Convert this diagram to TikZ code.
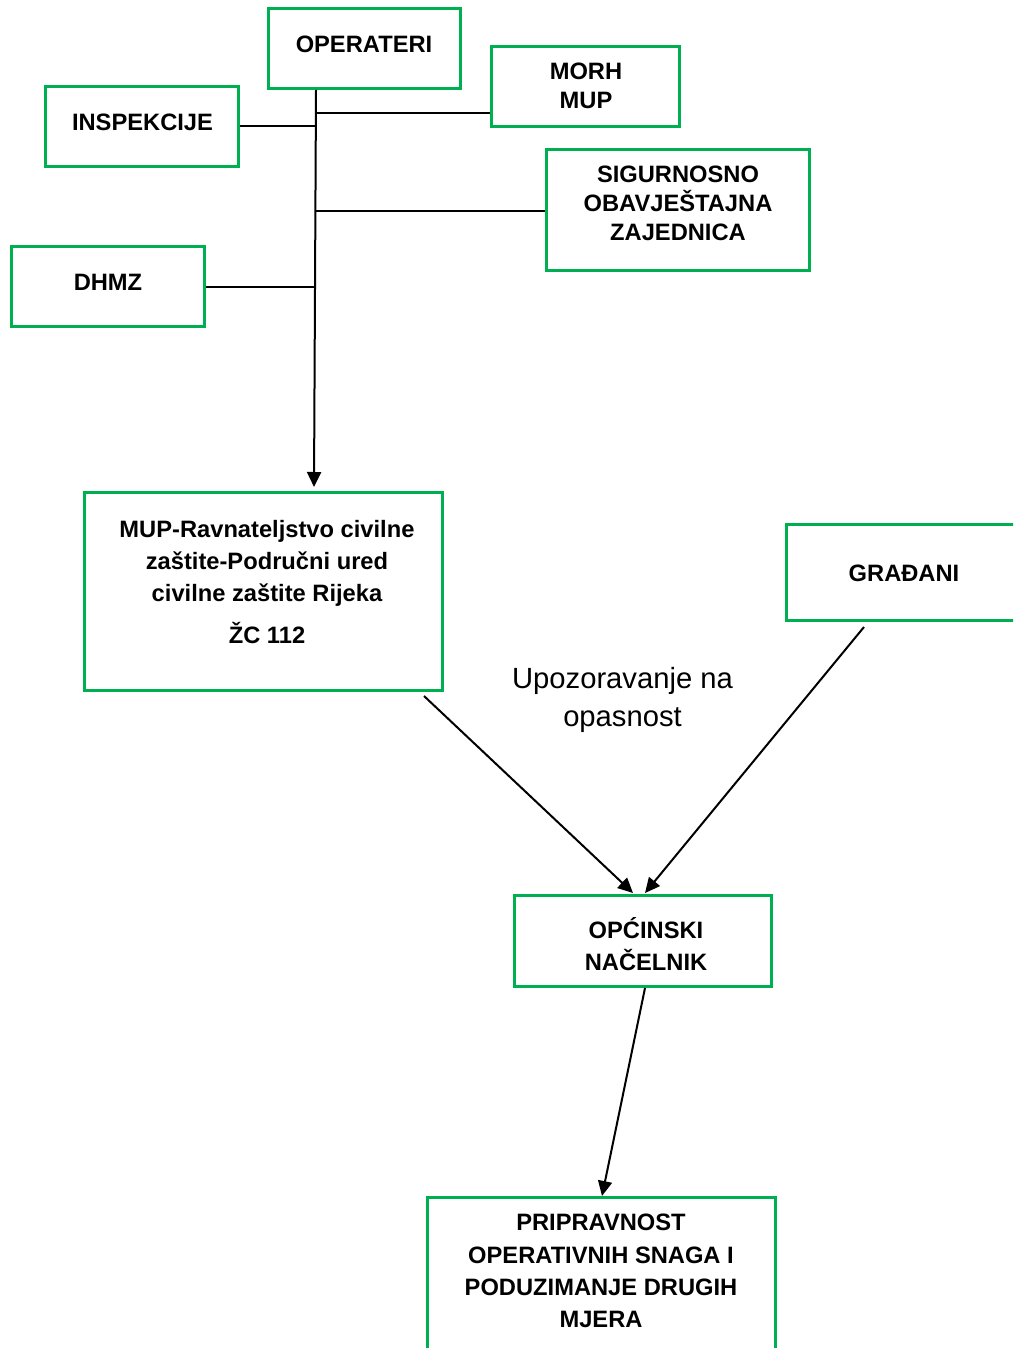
\documentclass[tikz,border=0pt]{standalone}
\usepackage{fontspec}
\setmainfont{Liberation Sans}
\usetikzlibrary{arrows.meta}
\definecolor{boxgreen}{RGB}{0,176,80}
\begin{document}
\begin{tikzpicture}[x=1pt,y=-1pt,
  box/.style={draw=boxgreen, line width=3.3pt, inner sep=0pt, rectangle},
  lbl/.style={font=\bfseries\fontsize{23.7}{29}\selectfont, align=center, inner sep=0pt},
  lblw/.style={font=\bfseries\fontsize{23.7}{32.3}\selectfont, align=center, inner sep=0pt},
  plain/.style={font=\fontsize{29.2}{38}\selectfont, align=center, inner sep=0pt},
  conn/.style={line width=2pt, black},
  arr/.style={conn, -{Triangle[length=15pt,width=14pt]}},
]
\useasboundingbox (0,0) rectangle (1013,1348);
\begin{scope}
\clip (0,0) rectangle (1013,1348);
% boxes
\node[box, minimum width=191.7pt, minimum height=79.7pt] (op) at (364.5,48.5) {};
\node[box, minimum width=192.7pt, minimum height=79.7pt] (insp) at (142,126.5) {};
\node[box, minimum width=187.7pt, minimum height=79.7pt] (morh) at (585.5,86.5) {};
\node[box, minimum width=262.7pt, minimum height=120.7pt] (sig) at (678,210) {};
\node[box, minimum width=192.7pt, minimum height=79.7pt] (dhmz) at (108,286.5) {};
\node[box, minimum width=357.7pt, minimum height=197.7pt] (mup) at (263.5,591.5) {};
\node[box, minimum width=234.7pt, minimum height=95.7pt] (grad) at (904,572.5) {};
\node[box, minimum width=256.7pt, minimum height=90.7pt] (opc) at (643,941) {};
\node[box, minimum width=347.7pt, minimum height=220.7pt] (prip) at (601.5,1308) {};
\end{scope}
% texts
\node[lbl] (opT) at (364,44.5) {OPERATERI};
\node[lbl] (inspT) at (142.5,122.5) {INSPEKCIJE};
\node[lbl] (morhT) at (586,85.5) {MORH\\MUP};
\node[lbl] (sigT) at (678,203.5) {SIGURNOSNO\\OBAVJEŠTAJNA\\ZAJEDNICA};
\node[lbl] (dhmzT) at (108,282) {DHMZ};
\node[lblw, anchor=north] (mupT) at (267,520) {MUP-Ravnateljstvo civilne\\zaštite-Područni ured\\civilne zaštite Rijeka\\[9pt]ŽC 112};
\node[lbl] (gradT) at (904,573.5) {GRAĐANI};
\node[lblw] (opcT) at (646,944) {OPĆINSKI\\NAČELNIK};
\node[lblw] (pripT) at (601,1271) {PRIPRAVNOST\\OPERATIVNIH SNAGA I\\PODUZIMANJE DRUGIH\\MJERA};
\node[plain] (warn) at (622.5,699.5) {Upozoravanje na\\opasnost};
% connectors
\coordinate (mupIn) at (314,487);
\draw[arr] (op.south -| 316,0) -- (mupIn);
\draw[conn] (insp.east) -- (316,126.5);
\draw[conn] (315.9,113) -- (morh.west |- 0,113);
\draw[conn] (315.7,210.7) -- (sig.west |- 0,210.7);
\draw[conn] (dhmz.east) -- (315.3,286.5);
\coordinate (mupOut) at (424,696);
\coordinate (opcInL) at (633,893);
\draw[arr] (mupOut) -- (opcInL);
\coordinate (gradOut) at (864,627);
\coordinate (opcInR) at (645,893);
\draw[arr] (gradOut) -- (opcInR);
\coordinate (opcOut) at (645,988);
\coordinate (pripIn) at (602,1196);
\draw[arr] (opcOut) -- (pripIn);
\end{tikzpicture}
\end{document}
